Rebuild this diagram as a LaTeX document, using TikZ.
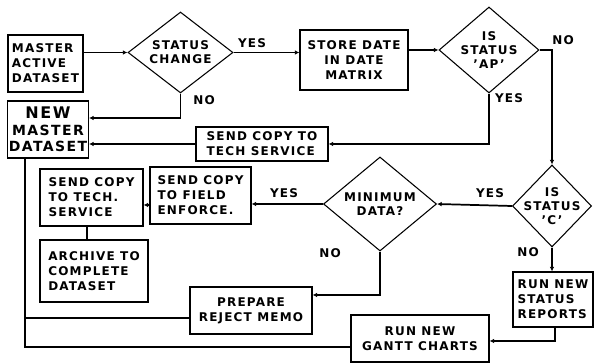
\documentclass[tikz,border=0pt]{standalone}
\usepackage{fontspec}
\setmainfont{DejaVu Sans}[LetterSpace=10]
\usetikzlibrary{shapes.geometric,arrows.meta}
\begin{document}
\begin{tikzpicture}[x=0.75pt,y=-0.75pt,
  sz/.style 2 args={minimum width=#1*0.75pt,minimum height=#2*0.75pt},
  box/.style={draw,line width=0.8pt,inner sep=1pt,font=\bfseries\fontsize{9}{11.25}\selectfont},
  dia/.style={draw,diamond,line width=0.8pt,inner sep=0pt},
  dtxt/.style={font=\bfseries\fontsize{9}{10.5}\selectfont,align=center},
  con/.style={line width=1.3pt},
  arr/.style={con,-{Latex[length=3.5pt,width=3.5pt]}},
  lab/.style={font=\bfseries\fontsize{9}{11}\selectfont,inner sep=0pt}]
\useasboundingbox (0,0) rectangle (594,363);
% boxes
\node[box,sz={75}{57},align=left] (mad) at (45.5,63.5) {MASTER\\ACTIVE\\DATASET};
\node[box,sz={80}{57},align=center,font=\bfseries\fontsize{10.5}{12.5}\selectfont] (nmd) at (48,129.5) {{\fontsize{12}{12.5}\selectfont NEW}\\MASTER\\DATASET};
\node[box,sz={108}{60},align=center] (store) at (354,60) {STORE DATE\\IN DATE\\MATRIX};
\node[box,sz={132}{34},align=left] (stech) at (262,144) {SEND COPY TO\\TECH SERVICE};
\node[box,sz={103}{57},align=left] (tech) at (91.5,197.5) {SEND COPY\\TO TECH.\\SERVICE};
\node[box,sz={101}{57},align=left] (field) at (200.5,195.5) {SEND COPY\\TO FIELD\\ENFORCE.};
\node[box,sz={108}{62},align=left] (arch) at (94,271) {ARCHIVE TO\\COMPLETE\\DATASET};
\node[box,sz={122}{47},align=center] (rej) at (251,310.5) {PREPARE\\REJECT MEMO};
\node[box,sz={80}{55},align=left] (sr) at (553,299.5) {RUN NEW\\STATUS\\REPORTS};
\node[box,sz={138}{47},align=center] (gantt) at (420,338.5) {RUN NEW\\GANTT CHARTS};
% diamonds
\node[dia,sz={105}{81},label={[dtxt]center:{STATUS\\CHANGE}}] (sc) at (180.5,52.5) {};
\node[dia,sz={100}{86},label={[dtxt]center:{IS\\STATUS\\'AP'}}] (ap) at (489,50) {};
\node[dia,sz={113}{94},label={[dtxt]center:{MINIMUM\\DATA?}}] (min) at (380,204) {};
\node[dia,sz={79}{82},label={[dtxt]center:{IS\\STATUS\\'C'}}] (c) at (552,206) {};
% helper
\coordinate (bl) at (25,347);
% connectors
\draw[arr] (sc.west -| mad.east) -- (sc.west);
\draw[arr] (sc.east) -- (store.west |- sc.east);
\draw[arr] (store.east |- ap.west) -- (ap.west);
\draw[arr] (sc.south) |- (nmd.east |- 0,118);
\draw[arr] (ap.south) |- (stech.east);
\draw[arr] (stech.west) -- (nmd.east |- stech.west);
\draw[arr] (ap.east) -| (c.north);
\draw[arr] (c.west) -- (min.east);
\draw[arr] (min.west) -- (field.east |- min.west);
\draw[arr] (field.west |- 0,205) -- (tech.east |- 0,205);
\draw[con] (tech.south -| 87,0) -- (arch.north -| 87,0);
\draw[arr] (min.south) |- (rej.east |- 0,295);
\draw[arr] (c.south) -- (sr.north -| c.south);
\draw[arr] (sr.south -| 555,0) |- (gantt.east |- 0,341);
\draw[con] (nmd.south -| bl) -- (bl) -- (gantt.west |- bl);
\draw[con] (bl |- 0,318) -- (rej.west |- 0,318);
% labels
\node[lab] (l1) at (252,43) {YES};
\node[lab] (l2) at (204,100) {NO};
\node[lab] (l3) at (509,98) {YES};
\node[lab] (l4) at (563,40) {NO};
\node[lab] (l5) at (284,193) {YES};
\node[lab] (l6) at (490,193) {YES};
\node[lab] (l7) at (330,253) {NO};
\node[lab] (l8) at (528,252) {NO};
\end{tikzpicture}
\end{document}
